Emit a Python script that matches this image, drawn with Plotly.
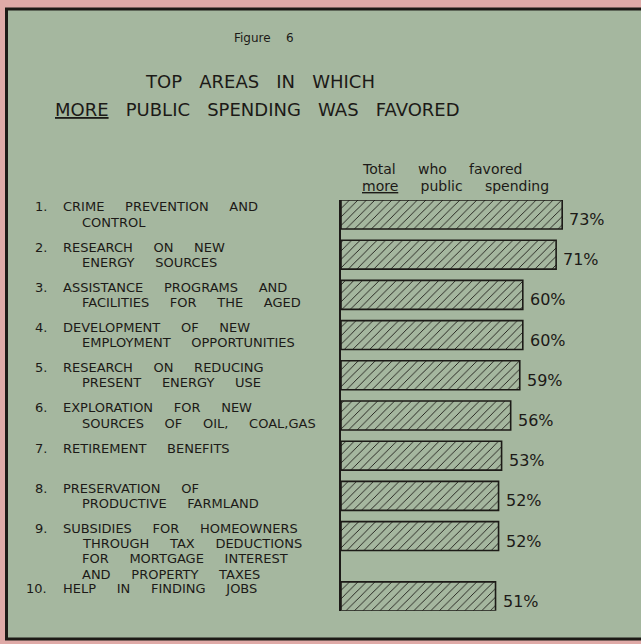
import plotly.graph_objects as go

# ---------------- data ----------------
numbers = ["1.", "2.", "3.", "4.", "5.", "6.", "7.", "8.", "9.", "10."]
areas = [
    "CRIME PREVENTION AND\nCONTROL",
    "RESEARCH ON NEW\nENERGY SOURCES",
    "ASSISTANCE PROGRAMS AND\nFACILITIES FOR THE AGED",
    "DEVELOPMENT OF NEW\nEMPLOYMENT OPPORTUNITIES",
    "RESEARCH ON REDUCING\nPRESENT ENERGY USE",
    "EXPLORATION FOR NEW\nSOURCES OF OIL, COAL,GAS",
    "RETIREMENT BENEFITS",
    "PRESERVATION OF\nPRODUCTIVE FARMLAND",
    "SUBSIDIES FOR HOMEOWNERS\nTHROUGH TAX DEDUCTIONS\nFOR MORTGAGE INTEREST\nAND PROPERTY TAXES",
    "HELP IN FINDING JOBS",
]
values = [73, 71, 60, 60, 59, 56, 53, 52, 52, 51]
value_labels = [f"{v}%" for v in values]

fig_label = "Figure 6"
title_line1 = "TOP AREAS IN WHICH"
title_line2 = "<u>MORE</u> PUBLIC SPENDING WAS FAVORED"
header_line1 = "Total who favored"
header_line2 = "<u>more</u> public spending"

# ---------------- layout helpers ----------------
W, H = 641, 644
FONT = "DejaVu Sans"
INK = "#1c1a17"
PANEL = "#a5b79f"
PINK = "#dfaaa7"
LABEL_SIZE = 13
LINE_STEP = 15.2


def px_x(p):
    return p / W


def px_y(p):
    return 1 - p / H


def spaced(s, n=3):
    return s.replace(" ", "\u00a0" * n)


# row positions: one slot per row, plus extra room after tall labels
line_counts = [len(a.split("\n")) for a in areas]
positions = []
pos = 0.0
for i, n in enumerate(line_counts):
    if i > 0:
        pos += 1 + 0.25 * max(0, line_counts[i - 1] - 2)
    positions.append(pos)

half = 0.36
slot_px = 40.2
top_px = 200
bottom_px = top_px + (positions[-1] + 2 * half) * slot_px

fig = go.Figure()
fig.add_trace(go.Bar(
    x=values,
    y=positions,
    orientation="h",
    width=2 * half,
    marker=dict(
        color=INK,
        line=dict(color=INK, width=1.6),
        pattern=dict(shape="/", size=6, solidity=0.15, bgcolor=PANEL,
                     fgcolor=INK, fillmode="replace"),
    ),
    hoverinfo="skip",
    showlegend=False,
))

annotations = []
for i, (num, area, val, lab) in enumerate(zip(numbers, areas, values, value_labels)):
    lines = area.split("\n")
    annotations.append(dict(
        text=num, xref="paper", yref="y", x=px_x(49), y=positions[i],
        xanchor="right", yanchor="middle", yshift=7.6, showarrow=False,
        font=dict(family=FONT, size=LABEL_SIZE, color=INK)))
    for j, ln in enumerate(lines):
        annotations.append(dict(
            text=spaced(ln, 5), xref="paper", yref="y",
            x=px_x(61 if j == 0 else 80), y=positions[i],
            xanchor="left", yanchor="middle", yshift=7.6 - LINE_STEP * j,
            showarrow=False, font=dict(family=FONT, size=LABEL_SIZE, color=INK)))
    annotations.append(dict(
        text=lab, xref="x", yref="y", x=val, y=positions[i],
        xanchor="left", yanchor="middle", xshift=5, yshift=-5,
        showarrow=False, font=dict(family=FONT, size=16, color=INK)))

# titles
annotations += [
    dict(text=spaced(fig_label, 4), xref="paper", yref="paper", x=px_x(264), y=px_y(38),
         xanchor="center", yanchor="middle", showarrow=False,
         font=dict(family=FONT, size=12, color=INK)),
    dict(text=spaced(title_line1, 3), xref="paper", yref="paper", x=px_x(260), y=px_y(82),
         xanchor="center", yanchor="middle", showarrow=False,
         font=dict(family=FONT, size=18, color=INK)),
    dict(text=spaced(title_line2, 3), xref="paper", yref="paper", x=px_x(257), y=px_y(110),
         xanchor="center", yanchor="middle", showarrow=False,
         font=dict(family=FONT, size=18, color=INK)),
    dict(text=spaced(header_line1, 5), xref="paper", yref="paper", x=px_x(360), y=px_y(169),
         xanchor="left", yanchor="middle", showarrow=False,
         font=dict(family=FONT, size=14, color=INK)),
    dict(text=spaced(header_line2, 5), xref="paper", yref="paper", x=px_x(360), y=px_y(186),
         xanchor="left", yanchor="middle", showarrow=False,
         font=dict(family=FONT, size=14, color=INK)),
]

shapes = [
    dict(type="rect", xref="paper", yref="paper",
         x0=px_x(6.5), x1=px_x(660), y0=px_y(639), y1=px_y(9),
         fillcolor=PANEL, line=dict(color="#1d1a16", width=3), layer="below"),
]

fig.update_layout(
    width=W, height=H,
    margin=dict(l=0, r=0, t=0, b=0),
    paper_bgcolor=PINK,
    plot_bgcolor="rgba(0,0,0,0)",
    annotations=annotations,
    shapes=shapes,
    bargap=0,
    xaxis=dict(domain=[px_x(341), 1], range=[0, 300 / 3.03], visible=False,
               fixedrange=True),
    yaxis=dict(domain=[px_y(bottom_px), px_y(top_px)],
               range=[positions[-1] + half, -half],
               showline=True, linecolor=INK, linewidth=2,
               showgrid=False, zeroline=False, showticklabels=False,
               ticks="", fixedrange=True),
)

fig.write_html(
    "out.html",
    config={"displayModeBar": False, "staticPlot": True},
    post_script="document.body.style.margin='0';document.body.style.overflow='hidden';",
)
